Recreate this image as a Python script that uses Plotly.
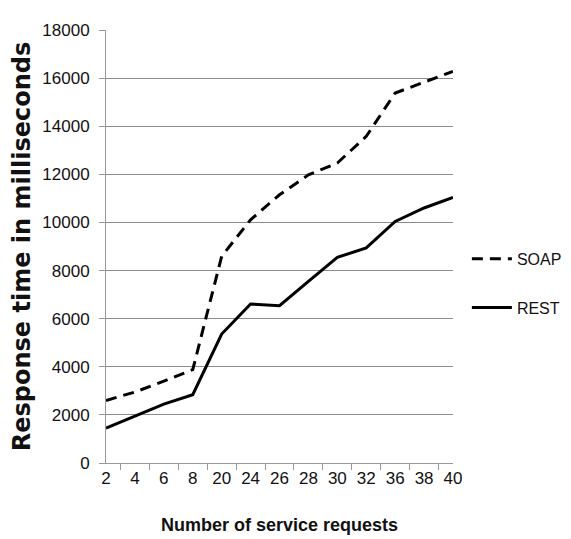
import plotly.graph_objects as go

categories = ["2", "4", "6", "8", "20", "24", "26", "28", "30", "32", "36", "38", "40"]
soap = [2600, 2950, 3400, 3880, 8590, 10110, 11150, 11980, 12470, 13580, 15380, 15840, 16280]
rest = [1450, 1950, 2450, 2840, 5360, 6610, 6540, 7550, 8550, 8940, 10040, 10600, 11040]
y_ticks = list(range(0, 18001, 2000))
y_tick_labels = [str(v) for v in y_ticks]

fig = go.Figure()
fig.add_trace(go.Scatter(x=categories, y=soap, mode="lines", name="SOAP", legendgroup="a",
                         line=dict(color="black", width=3, dash="11px,7px")))
fig.add_trace(go.Scatter(x=categories, y=rest, mode="lines", name="REST", legendgroup="b",
                         line=dict(color="black", width=3)))

fig.update_layout(
    width=571, height=539,
    margin=dict(l=98, r=121, t=22, b=84),
    paper_bgcolor="white", plot_bgcolor="white",
    font=dict(family="Liberation Sans, Arial", color="#111", size=17),
    showlegend=True,
    legend=dict(x=1.04, y=0.415, xanchor="left", yanchor="middle",
                font=dict(size=16, family="Liberation Sans, Arial"),
                tracegroupgap=25, itemwidth=40),
)
fig.update_xaxes(
    type="category", tickson="boundaries", ticks="outside", ticklen=6, tickcolor="#999",
    showline=True, linecolor="#999", linewidth=1, showgrid=False,
    tickfont=dict(size=17), tickangle=0,
    title=dict(text="<b>Number of service requests</b>", font=dict(size=18), standoff=30),
)
fig.update_yaxes(
    range=[0, 18000], tickvals=y_ticks, ticktext=y_tick_labels, ticks="outside", ticklen=6,
    tickcolor="#999", ticklabelstandoff=6,
    showline=True, linecolor="#999", linewidth=1,
    showgrid=True, gridcolor="#8c8c8c", gridwidth=1, zeroline=False,
    tickfont=dict(size=17),
    title=dict(text="<b>Response time in milliseconds</b>",
               font=dict(size=24, family="DejaVu Sans, Verdana"), standoff=4),
)

fig.write_html("out.html")
